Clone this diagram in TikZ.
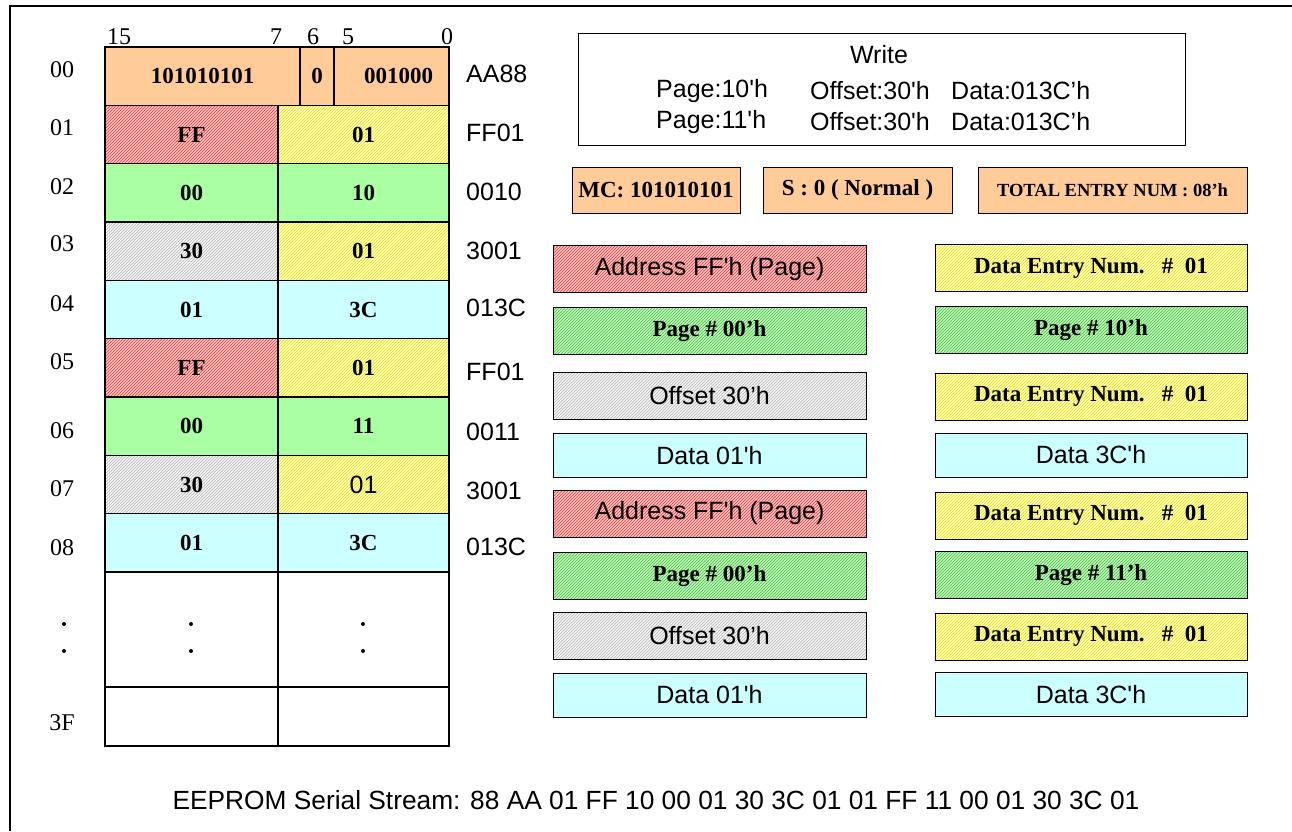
\documentclass[tikz,border=0pt]{standalone}
\usepackage{fontspec}
\setmainfont{Liberation Serif}
\newfontfamily\sansf{Liberation Sans}
\usetikzlibrary{patterns}
\definecolor{orangebg}{HTML}{FFCC99}
\definecolor{greenbg}{HTML}{AAFFA2}
\definecolor{cyanbg}{HTML}{CCFFFF}
\definecolor{redbg}{HTML}{F7C4C4}
\definecolor{redln}{HTML}{E23A3A}
\definecolor{yellowbg}{HTML}{FFFFC8}
\definecolor{yellowln}{HTML}{E8E000}
\definecolor{greybg}{HTML}{F6F6F6}
\definecolor{greyln}{HTML}{B4B4B4}
\definecolor{greenhbg}{HTML}{C6F4BE}
\definecolor{greenln}{HTML}{3CC03C}
\tikzset{
	cell/.style={draw, line width=1.2pt, inner sep=0pt, minimum height=58.3pt, font=\fontsize{23}{26}\selectfont\bfseries},
	field/.style={draw, line width=1pt, inner sep=0pt, minimum height=47pt},
	redhatch/.style={preaction={fill=redbg}, pattern=north east lines, pattern color=redln},
	yellowhatch/.style={preaction={fill=yellowbg}, pattern=north east lines, pattern color=yellowln},
	greyhatch/.style={preaction={fill=greybg}, pattern=north east lines, pattern color=greyln},
	greenhatch/.style={preaction={fill=greenhbg}, pattern=north east lines, pattern color=greenln},
	greenfill/.style={fill=greenbg},
	cyanfill/.style={fill=cyanbg},
	bitnum/.style={font=\fontsize{24}{26}\selectfont},
	rowlbl/.style={font=\fontsize{24}{26}\selectfont},
	hexlbl/.style={anchor=west, inner sep=0pt, font=\sansf\fontsize{25}{28}\selectfont},
	sanstxt/.style={font=\sansf\fontsize{25}{28}\selectfont},
	boldtxt/.style={font=\fontsize{23}{26}\selectfont\bfseries},
}
\begin{document}
\begin{tikzpicture}[x=1pt,y=-1pt]
\useasboundingbox (0,0) rectangle (1292,831);

% frame
\draw[line width=2.5pt] (10,831) -- (10,6) -- (1292,6);

% bit positions
\node[bitnum] (b15) at (119,37) {15};
\node[bitnum] (b7) at (276,37) {7};
\node[bitnum] (b6) at (313,37) {6};
\node[bitnum] (b5) at (348,37) {5};
\node[bitnum] (b0) at (447,37) {0};

% word 00
\node[cell, fill=orangebg, minimum width=195pt] (mcode) at (202.5,76.2) {101010101};
\node[cell, fill=orangebg, minimum width=34pt] (sbit) at (317,76.2) {0};
\node[cell, fill=orangebg, minimum width=115pt] (ecount) at (391.5,76.2) {\hspace{14pt}001000};

% words 01 - 08
\foreach \i/\yc/\lt/\ls/\rt/\rs in {
	1/134.5/FF/redhatch/01/yellowhatch,
	2/192.8/00/greenfill/10/greenfill,
	3/251.2/30/greyhatch/01/yellowhatch,
	4/309.5/01/cyanfill/3C/cyanfill,
	5/367.8/FF/redhatch/01/yellowhatch,
	6/426.2/00/greenfill/11/greenfill,
	7/484.5/30/greyhatch/{\sansf\mdseries\fontsize{25}{28}\selectfont 01}/yellowhatch,
	8/542.8/01/cyanfill/3C/cyanfill}
{
	\node[cell, \ls, minimum width=173pt] (l\i) at (191.5,\yc) {\lt};
	\node[cell, \rs, minimum width=171pt] (r\i) at (363.5,\yc) {\rt};
}

% remaining words
\node[cell, minimum width=173pt, minimum height=115pt] (ldots) at (191.5,629.5) {};
\node[cell, minimum width=171pt, minimum height=115pt] (rdots) at (363.5,629.5) {};
\node[cell, minimum width=173pt, minimum height=59pt] (l3f) at (191.5,716.5) {};
\node[cell, minimum width=171pt, minimum height=59pt] (r3f) at (363.5,716.5) {};
\foreach \xd in {64,191,363}{
	\fill (\xd,624) circle (2pt);
	\fill (\xd,651) circle (2pt);
}

% word addresses
\foreach \n/\yc in {00/70,01/128,02/187,03/244,04/304,05/362,06/431,07/489,08/548,3F/723}
	\node[rowlbl] (adr\n) at (62,\yc) {\n};

% word values
\foreach \n/\h/\yc in {0/AA88/74,1/FF01/133,2/0010/192,3/3001/251,4/013C/308,5/FF01/372,6/0011/432,7/3001/491,8/013C/547}
	\node[hexlbl] (hex\n) at (466,\yc) {\h};

% write command
\node[field, minimum width=607pt, minimum height=112pt] (wbox) at (881.5,89) {};
\node[sanstxt] (wtitle) at (879,55) {Write};
\node[sanstxt, anchor=west, inner sep=0pt] (wpg1) at (656,91) {Page:10'h};
\node[sanstxt, anchor=west, inner sep=0pt] (wof1) at (810,91) {Offset:30'h};
\node[sanstxt, anchor=west, inner sep=0pt] (wdt1) at (951,91) {Data:013C’h};
\node[sanstxt, anchor=west, inner sep=0pt] (wpg2) at (656,122) {Page:11'h};
\node[sanstxt, anchor=west, inner sep=0pt] (wof2) at (810,122) {Offset:30'h};
\node[sanstxt, anchor=west, inner sep=0pt] (wdt2) at (951,122) {Data:013C’h};

% header fields
\node[field, fill=orangebg, minimum width=168pt, minimum height=46pt, boldtxt] (mcbox) at (656,190) {MC: 101010101};
\node[field, fill=orangebg, minimum width=189pt, minimum height=46pt, boldtxt] (sbox) at (857.5,190) {S : 0 ( Normal )};
\node[field, fill=orangebg, minimum width=269pt, minimum height=46pt, font=\fontsize{18.5}{20}\selectfont\bfseries] (totbox) at (1112.5,190) {TOTAL ENTRY NUM : 08'h};

% entries, left column
\node[field, redhatch, minimum width=313pt, sanstxt] (adr1) at (709.5,269) {Address FF'h (Page)};
\node[field, greenhatch, minimum width=313pt, boldtxt] (pg1) at (709.5,331) {Page \# 00'h};
\node[field, greyhatch, minimum width=313pt, sanstxt] (ofs1) at (709.5,396) {Offset 30’h};
\node[field, cyanfill, minimum width=313pt, minimum height=44pt, sanstxt] (dat1) at (709.5,455.5) {Data 01'h};
\node[field, redhatch, minimum width=313pt, sanstxt] (adr2) at (709.5,513.5) {Address FF'h (Page)};
\node[field, greenhatch, minimum width=313pt, boldtxt] (pg2) at (709.5,576) {Page \# 00'h};
\node[field, greyhatch, minimum width=313pt, sanstxt] (ofs2) at (709.5,636) {Offset 30’h};
\node[field, cyanfill, minimum width=313pt, minimum height=44pt, sanstxt] (dat2) at (709.5,695) {Data 01'h};

% entries, right column
\node[field, yellowhatch, minimum width=312pt, boldtxt] (den1) at (1091,268) {Data Entry Num.\ \ \ \#\ \ 01};
\node[field, greenhatch, minimum width=312pt, boldtxt] (pg10) at (1091,330) {Page \# 10'h};
\node[field, yellowhatch, minimum width=312pt, boldtxt] (den2) at (1091,396.5) {Data Entry Num.\ \ \ \#\ \ 01};
\node[field, cyanfill, minimum width=312pt, minimum height=44pt, sanstxt] (d3c1) at (1091,455) {Data 3C'h};
\node[field, yellowhatch, minimum width=312pt, boldtxt] (den3) at (1091,515.5) {Data Entry Num.\ \ \ \#\ \ 01};
\node[field, greenhatch, minimum width=312pt, boldtxt] (pg11) at (1091,575) {Page \# 11'h};
\node[field, yellowhatch, minimum width=312pt, boldtxt] (den4) at (1091,636.5) {Data Entry Num.\ \ \ \#\ \ 01};
\node[field, cyanfill, minimum width=312pt, minimum height=44pt, sanstxt] (d3c2) at (1091,694.5) {Data 3C'h};

% serial stream
\node[font=\sansf\fontsize{26.3}{29}\selectfont] (stream) at (656,800) {EEPROM Serial Stream: 88 AA 01 FF 10 00 01 30 3C 01 01 FF 11 00 01 30 3C 01};
\end{tikzpicture}
\end{document}
